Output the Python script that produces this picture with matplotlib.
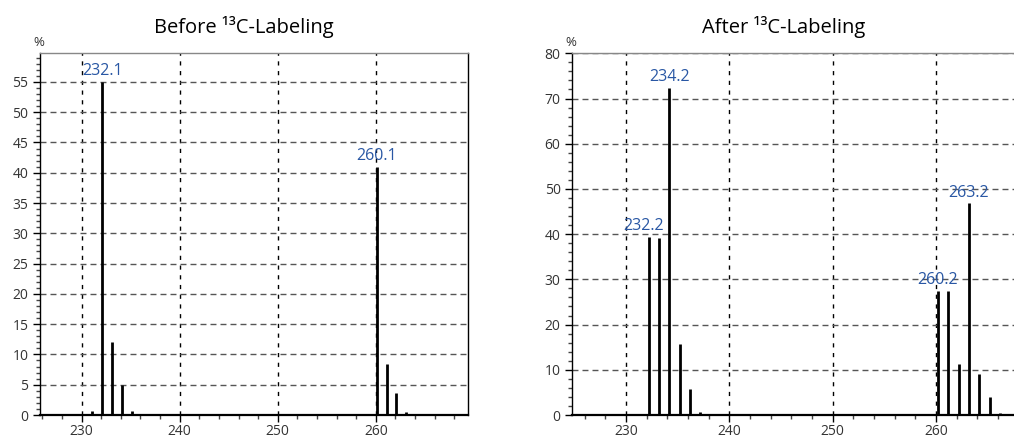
import matplotlib
matplotlib.use('Agg')
import matplotlib.pyplot as plt
from matplotlib.ticker import MultipleLocator

plt.rcParams['font.family'] = ['Open Sans', 'DejaVu Sans']

# Before labeling: m/z and relative abundance (%)
before_mz = [231.1, 232.1, 233.1, 234.1, 235.1, 259.1, 260.1, 261.1, 262.1, 263.1]
before_pct = [0.7, 55.0, 12.1, 4.9, 0.6, 0.2, 41.0, 8.4, 3.7, 0.5]
before_peaks = ['232.1', '260.1']

# After labeling
after_mz = [232.2, 233.2, 234.2, 235.2, 236.2, 237.2,
            260.2, 261.2, 262.2, 263.2, 264.2, 265.2, 266.2]
after_pct = [39.4, 39.1, 72.3, 15.6, 5.7, 0.7,
             27.5, 27.4, 11.3, 46.8, 9.1, 3.9, 0.4]
after_peaks = ['232.2', '234.2', '260.2', '263.2']

titles = ['Before \u00b9\u00b3C-Labeling', 'After \u00b9\u00b3C-Labeling']

label_blue = '#2957a4'
text_gray = '#333333'

fig = plt.figure(figsize=(10.14, 4.4), dpi=100)
ax1 = fig.add_axes([39.5 / 1014, 1 - 415 / 440, (468 - 39.5) / 1014, (415 - 52.5) / 440])
ax2 = fig.add_axes([571.7 / 1014, 1 - 415 / 440, (1018 - 571.7) / 1014, (415 - 53.3) / 440])


def style_axes(ax, xlim, ylim, ymajor, yminor, ymax_tick):
    ax.set_xlim(*xlim)
    ax.set_ylim(*ylim)
    ax.xaxis.set_major_locator(MultipleLocator(10))
    ax.xaxis.set_minor_locator(MultipleLocator(2))
    ax.set_yticks([v for v in range(0, ymax_tick + 1, ymajor)])
    ax.yaxis.set_minor_locator(MultipleLocator(yminor))
    ax.tick_params(axis='both', which='major', direction='out', length=5,
                   width=1, color='black', labelsize=10, labelcolor=text_gray)
    ax.tick_params(axis='y', which='major', pad=3)
    ax.tick_params(axis='x', which='major', pad=1.5)
    ax.tick_params(axis='both', which='minor', direction='out', length=3,
                   width=1, color='#444444')
    ax.xaxis.grid(True, which='major', color='black', linestyle=(0, (3, 4)), linewidth=1)
    ax.yaxis.grid(True, which='major', color='#555555', linestyle=(0, (4.3, 2.9)), linewidth=1)
    ax.set_axisbelow(True)
    for side in ['left', 'right']:
        ax.spines[side].set_color('black')
        ax.spines[side].set_linewidth(1)
    ax.spines['bottom'].set_color('black')
    ax.spines['bottom'].set_linewidth(1.6)
    ax.spines['top'].set_color('#888888')
    ax.spines['top'].set_linewidth(1)


def draw_spectrum(ax, mz, pct, peaks, offsets):
    ax.vlines(mz, 0, pct, colors='black', linewidth=2.0, zorder=3)
    for m, p in zip(mz, pct):
        key = '%.1f' % m
        if key in peaks:
            dx = offsets.get(key, 0)
            ax.annotate(key, (m, p), xytext=(dx, 2), textcoords='offset points',
                        ha='center', va='bottom', fontsize=11.5, color=label_blue,
                        zorder=4)


style_axes(ax1, (225.7, 269.4), (0, 59.85), 5, 1, 55)
style_axes(ax2, (224.75, 267.95), (0, 80), 10, 2, 80)

draw_spectrum(ax1, before_mz, before_pct, before_peaks, {})
draw_spectrum(ax2, after_mz, after_pct, after_peaks, {'232.2': -4})

fig.text(244 / 1014, 1 - 33 / 440, titles[0], ha='center', va='baseline',
         fontsize=14.5, color='black')
fig.text(784 / 1014, 1 - 33 / 440, titles[1], ha='center', va='baseline',
         fontsize=14.5, color='black')
fig.text(39 / 1014, 1 - 46 / 440, '%', ha='center', va='baseline',
         fontsize=9.5, color=text_gray)
fig.text(571 / 1014, 1 - 46 / 440, '%', ha='center', va='baseline',
         fontsize=9.5, color=text_gray)

fig.savefig('out.png', dpi=100)
